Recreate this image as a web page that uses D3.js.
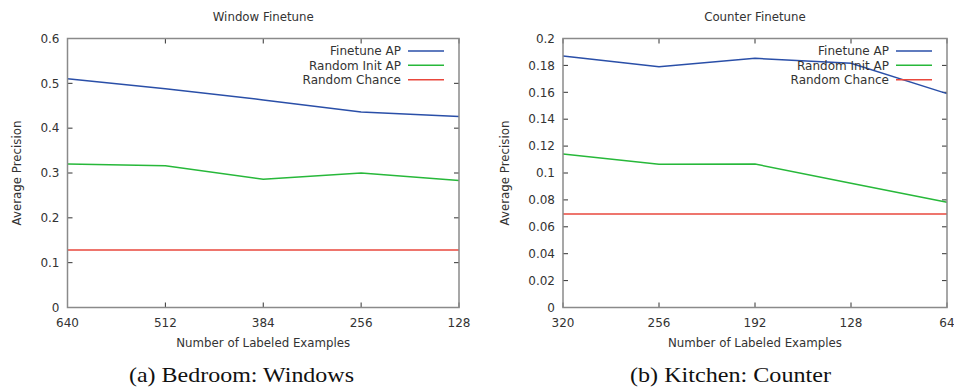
<!DOCTYPE html>
<html>
<head>
<meta charset="utf-8">
<script src="https://cdn.jsdelivr.net/npm/d3@7"></script>
<style>
  body { margin: 0; background: #fff; }
  svg text { font-family: "DejaVu Sans", sans-serif; fill: #333; }
  .caption { font-family: "Liberation Serif", "Times New Roman", serif; fill: #111; }
</style>
</head>
<body>
<div id="chart"></div>
<script>
var seriesNames = ["Finetune AP", "Random Init AP", "Random Chance"];
var seriesColors = ["#2a4fa8", "#27b83a", "#e9473c"];

// (a) Bedroom: Windows
var windowExamples = [640, 512, 384, 256, 128];
var windowFinetune = [0.51, 0.488, 0.463, 0.436, 0.426];
var windowRandomInit = [0.32, 0.316, 0.286, 0.30, 0.283];
var windowChance = [0.128, 0.128, 0.128, 0.128, 0.128];
var windowYTicks = [0, 0.1, 0.2, 0.3, 0.4, 0.5, 0.6];

// (b) Kitchen: Counter
var counterExamples = [320, 256, 192, 128, 64];
var counterFinetune = [0.187, 0.179, 0.1853, 0.1816, 0.159];
var counterRandomInit = [0.1141, 0.1065, 0.1067, 0.0923, 0.0782];
var counterChance = [0.0695, 0.0695, 0.0695, 0.0695, 0.0695];
var counterYTicks = [0, 0.02, 0.04, 0.06, 0.08, 0.1, 0.12, 0.14, 0.16, 0.18, 0.2];

var ctx = {
    w: 954,
    h: 387,
    top: 38.5,
    bottom: 307.5,
};

var panels = [
    {
        title: "Window Finetune",
        caption: "(a) Bedroom: Windows",
        captionX: 129, captionWidth: 225,
        left: 67.5, right: 459, ylabelX: 17,
        xs: windowExamples,
        yTicks: windowYTicks,
        yMax: 0.6,
        series: [windowFinetune, windowRandomInit, windowChance],
        legendTextX: 401, legendLine: [408, 444],
    },
    {
        title: "Counter Finetune",
        caption: "(b) Kitchen: Counter",
        captionX: 630, captionWidth: 201,
        left: 563, right: 947, ylabelX: 505,
        xs: counterExamples,
        yTicks: counterYTicks,
        yMax: 0.2,
        series: [counterFinetune, counterRandomInit, counterChance],
        legendTextX: 889, legendLine: [896, 932],
    },
];

var svgEl = d3.select("#chart").append("svg")
    .attr("width", ctx.w)
    .attr("height", ctx.h);

var fmt = function(d) {
    return d3.format("~g")(d);
};

var drawPanel = function(p) {
    var g = svgEl.append("g");
    var x = d3.scaleLinear()
        .domain([p.xs[0], p.xs[p.xs.length - 1]])
        .range([p.left, p.right]);
    var y = d3.scaleLinear()
        .domain([0, p.yMax])
        .range([ctx.bottom, ctx.top]);
    var cx = (p.left + p.right) / 2;

    // mirrored inward ticks, gnuplot style
    var tickLen = 5;
    g.selectAll(".ytick")
        .data(p.yTicks)
        .enter()
        .append("path")
        .attr("d", function(d) {
            var yy = y(d);
            return "M" + p.left + "," + yy + "h" + tickLen +
                "M" + p.right + "," + yy + "h" + (-tickLen);
        })
        .attr("stroke", "#333")
        .attr("stroke-width", 1);

    g.selectAll(".xtick")
        .data(p.xs)
        .enter()
        .append("path")
        .attr("d", function(d) {
            var xx = x(d);
            return "M" + xx + "," + ctx.bottom + "v" + (-tickLen) +
                "M" + xx + "," + ctx.top + "v" + tickLen;
        })
        .attr("stroke", "#333")
        .attr("stroke-width", 1);

    g.selectAll(".ylab")
        .data(p.yTicks)
        .enter()
        .append("text")
        .attr("x", p.left - 8)
        .attr("y", function(d) { return y(d) + 4.2; })
        .attr("text-anchor", "end")
        .attr("font-size", "12px")
        .text(fmt);

    g.selectAll(".xlab")
        .data(p.xs)
        .enter()
        .append("text")
        .attr("x", function(d) { return x(d); })
        .attr("y", 326.5)
        .attr("text-anchor", "middle")
        .attr("font-size", "12px")
        .text(function(d) { return d; });

    var line = d3.line()
        .x(function(d, i) { return x(p.xs[i]); })
        .y(function(d) { return y(d); });

    p.series.forEach(function(s, i) {
        g.append("path")
            .attr("d", line(s))
            .attr("fill", "none")
            .attr("stroke", seriesColors[i])
            .attr("stroke-width", 1.5);
    });

    // frame
    g.append("rect")
        .attr("x", p.left)
        .attr("y", ctx.top)
        .attr("width", p.right - p.left)
        .attr("height", ctx.bottom - ctx.top)
        .attr("fill", "none")
        .attr("stroke", "#8a8a8a")
        .attr("stroke-width", 1.5);

    // legend
    var legendY = [51, 65.3, 79.7];
    seriesNames.forEach(function(name, i) {
        g.append("text")
            .attr("x", p.legendTextX)
            .attr("y", legendY[i] + 4.2)
            .attr("text-anchor", "end")
            .attr("font-size", "12px")
            .text(name);
        g.append("line")
            .attr("x1", p.legendLine[0])
            .attr("x2", p.legendLine[1])
            .attr("y1", legendY[i])
            .attr("y2", legendY[i])
            .attr("stroke", seriesColors[i])
            .attr("stroke-width", 1.5);
    });

    g.append("text")
        .attr("x", cx)
        .attr("y", 21)
        .attr("text-anchor", "middle")
        .attr("font-size", "11.8px")
        .text(p.title);

    g.append("text")
        .attr("x", cx)
        .attr("y", 347)
        .attr("text-anchor", "middle")
        .attr("font-size", "11.8px")
        .text("Number of Labeled Examples");

    g.append("text")
        .attr("transform", "translate(" + (p.ylabelX + 4) + "," + ((ctx.top + ctx.bottom) / 2) + ") rotate(-90)")
        .attr("text-anchor", "middle")
        .attr("font-size", "11.8px")
        .text("Average Precision");

    g.append("text")
        .attr("class", "caption")
        .attr("x", p.captionX)
        .attr("y", 382)
        .attr("font-size", "22px")
        .attr("textLength", p.captionWidth)
        .attr("lengthAdjust", "spacingAndGlyphs")
        .text(p.caption);
};

panels.forEach(drawPanel);
</script>
</body>
</html>
